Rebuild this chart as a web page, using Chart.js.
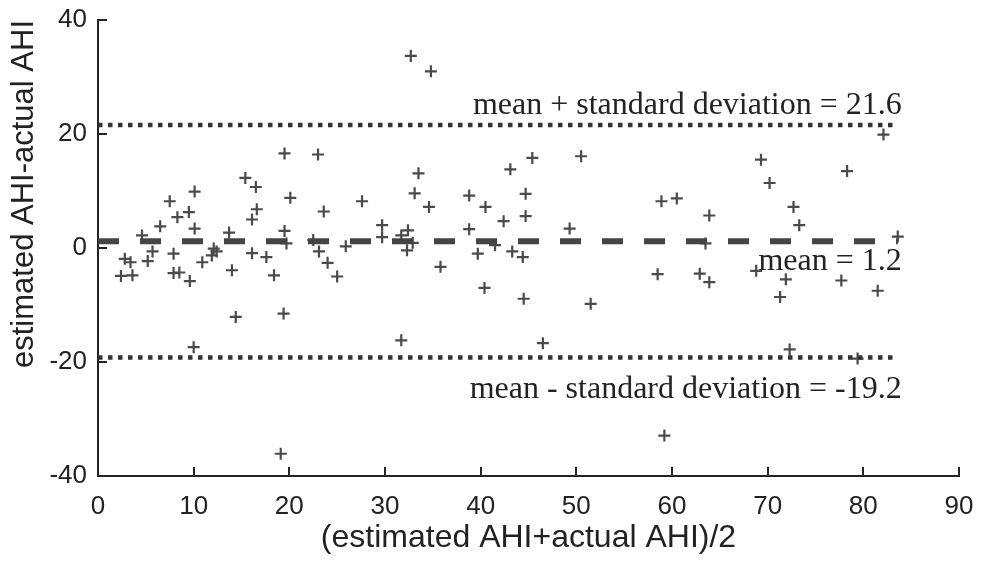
<!DOCTYPE html>
<html>
<head>
<meta charset="utf-8">
<script src="https://cdn.jsdelivr.net/npm/chart.js@4"></script>
<style>
  html, body { margin: 0; padding: 0; background: #fff; }
  #wrap { width: 988px; height: 562px; position: relative; }
</style>
</head>
<body>
<div id="wrap"><canvas id="chart"></canvas></div>
<script>
// mean of the two AHI values (x) and their difference (y)
const avgAHI = [19.5, 23.0, 10.1, 7.5, 8.3, 9.5, 15.4, 16.5, 16.6, 16.1, 20.1, 23.6, 27.6,
  4.6, 6.5, 10.1, 13.7, 19.5, 19.7, 22.5, 29.7, 29.7, 2.4, 3.6, 2.8, 3.4, 5.2, 5.7, 7.9, 7.9, 8.5, 9.6,
  10.9, 11.9, 12.1, 12.4, 14.0, 14.4, 16.1, 17.6, 18.4, 19.4, 19.1, 10.0, 23.1, 24.0, 25.0, 25.9,
  32.7, 34.8, 33.5, 33.1, 34.6, 43.1, 45.4, 50.5, 38.8, 40.5, 44.7, 44.7, 42.4, 58.9, 60.5, 32.4, 31.7,
  32.9, 32.3, 38.8, 49.3, 41.5, 39.7, 43.3, 44.4, 35.8, 40.4, 44.5, 51.5, 58.5, 31.7, 46.5, 59.2,
  82.1, 69.3, 78.3, 70.2, 63.9, 72.7, 73.3, 63.5, 83.6, 62.9, 63.9, 68.8, 71.9, 71.3, 77.7, 81.5, 72.3, 79.4];
const diffAHI = [16.6, 16.4, 9.9, 8.2, 5.4, 6.3, 12.3, 10.7, 6.8, 5.0, 8.8, 6.4, 8.2,
  2.2, 3.8, 3.4, 2.7, 3.0, 0.8, 1.4, 4.0, 1.9, -4.9, -4.8, -1.9, -2.5, -2.3, -0.6, -1.0, -4.4, -4.3, -5.8,
  -2.5, -1.3, -0.1, -0.6, -3.9, -12.1, -0.9, -1.6, -4.8, -11.5, -36.1, -17.4, -0.6, -2.6, -5.0, 0.3,
  33.7, 31.0, 13.1, 9.6, 7.2, 13.8, 15.8, 16.1, 9.2, 7.2, 9.5, 5.6, 4.7, 8.2, 8.7, 3.1, 2.2,
  0.9, -0.4, 3.3, 3.4, 0.5, -1.0, -0.6, -1.6, -3.3, -7.0, -8.9, -9.8, -4.6, -16.2, -16.7, -32.9,
  19.9, 15.5, 13.5, 11.4, 5.7, 7.2, 4.0, 0.8, 2.0, -4.5, -6.0, -4.0, -5.5, -8.6, -5.7, -7.5, -17.8, -19.4];

const meanDiff = 1.2;
const upperSD = 21.6;
const lowerSD = -19.2;
const lineX = [0, 83.6];

const xTicks = [0, 10, 20, 30, 40, 50, 60, 70, 80, 90];
const yTicks = [-40, -20, 0, 20, 40];

const points = avgAHI.map((x, i) => ({ x, y: diffAHI[i] }));
const hLine = (v) => lineX.map(x => ({ x, y: v }));

const INK = "#222";
const SANS = "'Liberation Sans', Arial, sans-serif";

// tick marks drawn inward, like the original
const innerTicks = {
  id: "innerTicks",
  afterDraw(chart) {
    const { ctx, chartArea, scales } = chart;
    ctx.save();
    ctx.strokeStyle = INK;
    ctx.lineWidth = 2;
    ctx.beginPath();
    xTicks.forEach(v => {
      const px = Math.round(scales.x.getPixelForValue(v));
      ctx.moveTo(px, chartArea.bottom);
      ctx.lineTo(px, chartArea.bottom - 9);
    });
    yTicks.forEach(v => {
      const py = Math.round(scales.y.getPixelForValue(v));
      ctx.moveTo(chartArea.left, py);
      ctx.lineTo(chartArea.left + 9, py);
    });
    ctx.stroke();
    ctx.restore();
  }
};

// text labels for the three reference lines
const lineLabels = {
  id: "lineLabels",
  afterDatasetsDraw(chart) {
    const { ctx, scales } = chart;
    const xr = scales.x.getPixelForValue(lineX[1]) + 4;
    ctx.save();
    ctx.fillStyle = INK;
    ctx.font = "32px 'Liberation Serif', 'Times New Roman', serif";
    ctx.textAlign = "right";
    ctx.textBaseline = "alphabetic";
    ctx.fillText("mean + standard deviation = " + upperSD, xr, scales.y.getPixelForValue(upperSD) - 11);
    ctx.fillText("mean = " + meanDiff, xr, scales.y.getPixelForValue(meanDiff) + 29);
    ctx.fillText("mean - standard deviation = " + lowerSD, xr, scales.y.getPixelForValue(lowerSD) + 41);
    ctx.restore();
  }
};

new Chart(document.getElementById("chart"), {
  type: "scatter",
  data: {
    datasets: [
      {
        label: "upper",
        data: hLine(upperSD),
        showLine: true,
        borderColor: "#333",
        borderWidth: 4.5,
        borderDash: [4.5, 5.5],
        pointRadius: 0
      },
      {
        label: "lower",
        data: hLine(lowerSD),
        showLine: true,
        borderColor: "#333",
        borderWidth: 4.5,
        borderDash: [4.5, 5.5],
        pointRadius: 0
      },
      {
        label: "mean",
        data: hLine(meanDiff),
        showLine: true,
        borderColor: "#444",
        borderWidth: 6,
        borderDash: [21, 21],
        pointRadius: 0
      },
      {
        label: "diff",
        data: points,
        pointStyle: "cross",
        pointRadius: 6,
        borderWidth: 2.2,
        borderColor: "#4a4a4a",
        backgroundColor: "#4a4a4a"
      }
    ]
  },
  options: {
    responsive: true,
    maintainAspectRatio: false,
    animation: false,
    layout: { padding: { top: 20, right: 29, left: 0, bottom: 0 } },
    plugins: { legend: { display: false }, tooltip: { enabled: false } },
    scales: {
      x: {
        type: "linear",
        min: 0,
        max: 90,
        afterBuildTicks: (s) => { s.ticks = xTicks.map(v => ({ value: v })); },
        afterFit: (s) => { s.height = 86; s.paddingLeft = 0; s.paddingRight = 0; },
        grid: { display: false },
        border: { display: true, color: INK, width: 2 },
        ticks: {
          color: INK,
          padding: 7,
          maxRotation: 0,
          font: { family: SANS, size: 26 }
        },
        title: {
          display: true,
          text: "(estimated AHI+actual AHI)/2",
          color: INK,
          padding: { top: 0, bottom: 5 },
          font: { family: SANS, size: 32 }
        }
      },
      y: {
        type: "linear",
        min: -40,
        max: 40,
        afterBuildTicks: (s) => { s.ticks = yTicks.map(v => ({ value: v })); },
        afterFit: (s) => { s.width = 98; s.paddingTop = 0; s.paddingBottom = 0; },
        grid: { display: false },
        border: { display: true, color: INK, width: 2 },
        ticks: {
          color: INK,
          padding: 3,
          font: { family: SANS, size: 26 }
        },
        title: {
          display: true,
          text: "estimated AHI-actual AHI",
          align: "end",
          color: INK,
          padding: { top: 6, bottom: 0 },
          font: { family: SANS, size: 31 }
        }
      }
    }
  },
  plugins: [innerTicks, lineLabels]
});
</script>
</body>
</html>
